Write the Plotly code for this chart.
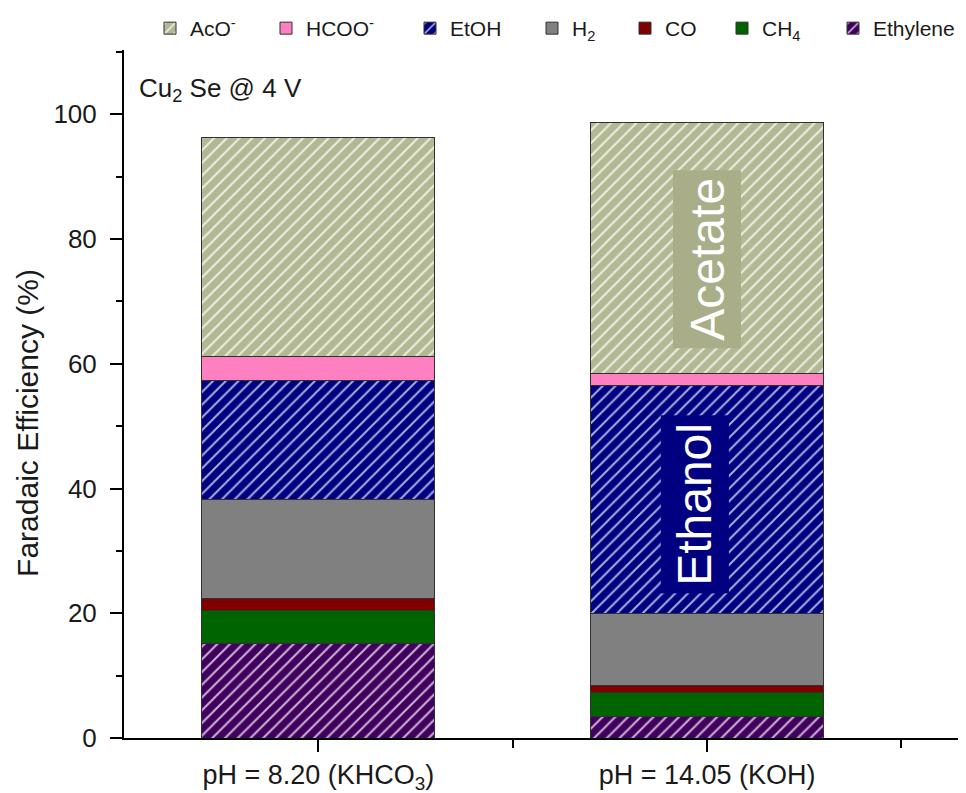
import plotly.graph_objects as go

# ---- data ----
categories = ["pH = 8.20 (KHCO<sub>3</sub>)", "pH = 14.05 (KOH)"]
x_pos = [0, 1]
series_names = ["Ethylene", "CH<sub>4</sub>", "CO", "H<sub>2</sub>", "EtOH", "HCOO<sup>-</sup>", "AcO<sup>-</sup>"]
ethylene = [15.2, 3.4]
ch4 = [5.2, 3.9]
co = [1.9, 1.1]
h2 = [16.0, 11.6]
etoh = [19.0, 36.5]
hcoo = [3.8, 1.9]
aco = [35.2, 40.2]
y_ticks = [0, 20, 40, 60, 80, 100]

series_values = [ethylene, ch4, co, h2, etoh, hcoo, aco]
colors = ["#42005e", "#006400", "#800000", "#808080", "#000080", "#ff80c0", "#b2b894"]
patterned = [True, False, False, False, True, False, True]
fg = ["#d8c8e0", None, None, None, "#b8c0e8", None, "#f4f4ea"]
# text start (px, page) of each legend entry, as in the reference
legend_text_x = [873, 762, 665, 572, 450, 306, 190]

FONT = "Liberation Sans, Arial, sans-serif"
OFF = 8            # default page body margin
W, H = 966 - OFF, 793 - OFF

fig = go.Figure()
legend_layout = {}
for i, (name, vals, c, p, f, tx) in enumerate(zip(series_names, series_values, colors,
                                                   patterned, fg, legend_text_x)):
    marker = dict(color=c, line=dict(color="#303030", width=1))
    if p:
        marker["pattern"] = dict(shape="/", fgcolor=f, bgcolor=c, size=9,
                                 solidity=0.22, fgopacity=0.9)
    lname = "legend" if i == 0 else f"legend{i + 1}"
    fig.add_trace(go.Bar(x=x_pos, y=vals, name=name, width=0.6, marker=marker,
                         legend=lname))
    legend_layout[lname] = dict(xref="container", yref="container",
                                x=(tx - OFF - 40) / W, y=1.0,
                                xanchor="left", yanchor="top",
                                bgcolor="rgba(0,0,0,0)",
                                font=dict(size=21, family=FONT, color="#1a1a1a"))

fig.update_layout(
    width=W, height=H,
    barmode="stack",
    plot_bgcolor="white", paper_bgcolor="white",
    margin=dict(l=124 - OFF, r=0, t=50 - OFF, b=55, autoexpand=False),
    font=dict(family=FONT, color="#1a1a1a"),
    showlegend=True,
    xaxis=dict(range=[-0.5, 1.666], tickvals=x_pos, ticktext=categories,
               automargin=False,
               showline=True, linecolor="black", linewidth=2,
               ticks="outside", ticklen=12, tickwidth=2, tickcolor="black",
               tickfont=dict(size=27, family=FONT), showgrid=False, zeroline=False,
               minor=dict(tickvals=[0.5, 1.5], ticks="outside", ticklen=8,
                          tickwidth=2, tickcolor="black")),
    yaxis=dict(range=[0, 110.3], tickvals=y_ticks, automargin=False,
               showline=True, linecolor="black", linewidth=2,
               ticks="outside", ticklen=12, tickwidth=2, tickcolor="black",
               ticklabelstandoff=8,
               tickfont=dict(size=26, family=FONT), showgrid=False, zeroline=False,
               minor=dict(dtick=10, tick0=10, ticks="outside", ticklen=6,
                          tickwidth=2, tickcolor="black")),
    **legend_layout,
)

fig.add_annotation(text="Faradaic Efficiency (%)", xref="paper", yref="paper",
                   x=-0.114, y=0.458, xanchor="center", yanchor="middle",
                   textangle=-90, showarrow=False,
                   font=dict(size=30, family=FONT, color="#1a1a1a"))
fig.add_annotation(text="Cu<sub>2</sub> Se @ 4 V", xref="paper", yref="paper",
                   x=0.016, y=0.943, xanchor="left", yanchor="middle",
                   showarrow=False, font=dict(size=26, family=FONT, color="#1a1a1a"))
fig.add_annotation(text="Acetate", x=1, y=76.7, xref="x", yref="y",
                   textangle=-90, showarrow=False, bgcolor="#a9ae88",
                   borderpad=7, font=dict(size=48, family=FONT, color="white"))
fig.add_annotation(text="Ethanol", x=1, y=37.4, xshift=-12, xref="x", yref="y",
                   textangle=-90, showarrow=False, bgcolor="#000080",
                   borderpad=7, font=dict(size=48, family=FONT, color="white"))

fig.write_html("out.html")
